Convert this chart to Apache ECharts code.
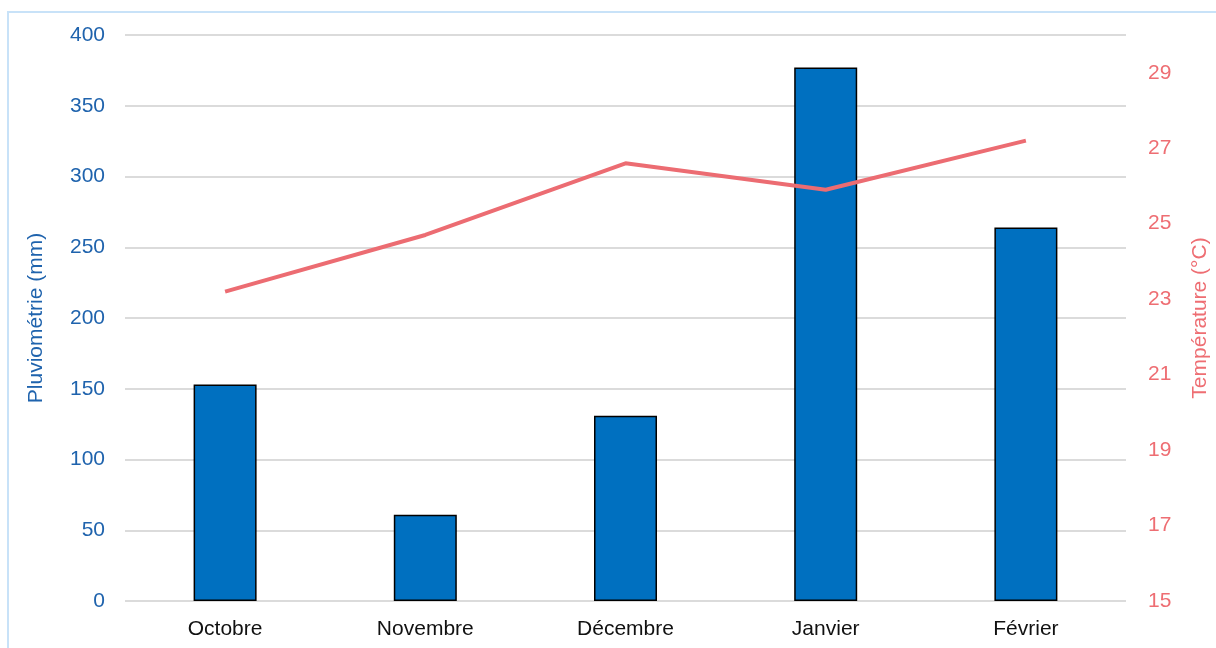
<!DOCTYPE html>
<html>
<head>
<meta charset="utf-8">
<script src="https://cdn.jsdelivr.net/npm/echarts@6/dist/echarts.min.js"></script>
<style>
html,body{margin:0;padding:0;background:#fff;}
#chart{width:1216px;height:648px;}
</style>
</head>
<body>
<div id="chart"></div>
<script>
const categories = ['Octobre', 'Novembre', 'Décembre', 'Janvier', 'Février'];
const rainfall = [153, 61, 131, 377, 264];
const temperature = [23.2, 24.7, 26.6, 25.9, 27.2];
const rainTicks = [0, 50, 100, 150, 200, 250, 300, 350, 400];
const tempTicks = [15, 17, 19, 21, 23, 25, 27, 29];

const FONT = '"Liberation Sans", Arial, Helvetica, sans-serif';
const chart = echarts.init(document.getElementById('chart'));
chart.setOption({
  animation: false,
  textStyle: { fontFamily: FONT },
  graphic: [{
    type: 'rect',
    shape: { x: 8, y: 12, width: 1400, height: 800 },
    style: { fill: 'none', stroke: '#c8e2f8', lineWidth: 2 },
    silent: true
  }],
  grid: { left: 125, right: 90, top: 35, bottom: 47, outerBoundsMode: 'none', containLabel: false },
  xAxis: {
    type: 'category',
    data: categories,
    axisLine: { show: false },
    axisTick: { show: false },
    axisLabel: { color: '#111', fontSize: 21, margin: 18, fontFamily: FONT }
  },
  yAxis: [{
    type: 'value',
    min: rainTicks[0],
    max: rainTicks[rainTicks.length - 1],
    interval: 50,
    name: 'Pluviométrie (mm)',
    nameLocation: 'middle',
    nameGap: 78,
    nameTextStyle: { color: '#1f63ad', fontSize: 21, fontFamily: FONT },
    axisLine: { show: false },
    axisTick: { show: false },
    axisLabel: { color: '#1f63ad', fontSize: 21, margin: 20, fontFamily: FONT },
    splitLine: { lineStyle: { color: '#cfcfcf', width: 1.5 } }
  }, {
    type: 'value',
    min: 15,
    max: 30,
    name: 'Température (°C)',
    nameLocation: 'middle',
    nameGap: 64,
    nameRotate: 90,
    nameTextStyle: { color: '#ee6e73', fontSize: 21, fontFamily: FONT },
    axisLine: { show: false },
    axisTick: { show: false },
    axisLabel: { color: '#ee6e73', fontSize: 21, margin: 22, fontFamily: FONT, customValues: tempTicks },
    splitLine: { show: false }
  }],
  series: [{
    type: 'bar',
    data: rainfall,
    barWidth: 63,
    yAxisIndex: 0,
    itemStyle: { color: '#0070c0', borderColor: '#000', borderWidth: 1.5 }
  }, {
    type: 'line',
    data: temperature,
    yAxisIndex: 1,
    symbol: 'none',
    lineStyle: { color: '#ec6c72', width: 4 },
    z: 5
  }]
});
</script>
</body>
</html>
